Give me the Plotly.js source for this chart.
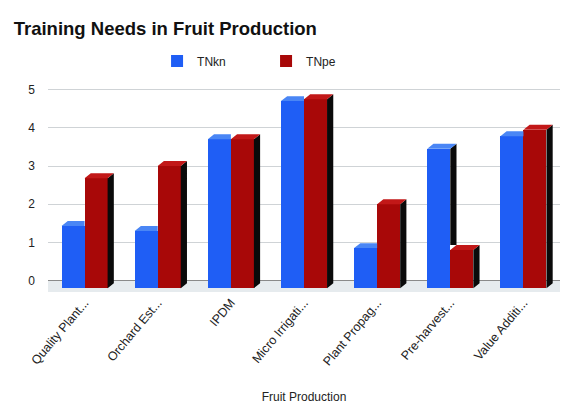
<!DOCTYPE html>
<html>
<head>
<meta charset="utf-8">
<script src="https://cdn.plot.ly/plotly-3.0.1.min.js"></script>
<style>html,body{margin:0;padding:0;background:#fff}#chart{width:571px;height:404px}</style>
</head>
<body>
<div id="chart"></div>
<script>
// ---- data ----
const categories = ["Quality Plant...", "Orchard Est...", "IPDM", "Micro Irrigati...", "Plant Propag...", "Pre-harvest...", "Value Additi..."];
const TNkn = [1.43, 1.30, 3.70, 4.70, 0.85, 3.45, 3.78];
const TNpe = [2.68, 3.00, 3.70, 4.75, 2.00, 0.80, 3.95];
const seriesNames = ["TNkn", "TNpe"];
const tickValues = [0, 1, 2, 3, 4, 5];

// ---- styling / geometry (not data) ----
const FONT = "Liberation Sans, Arial, sans-serif";
const base = -0.2, w = 0.315, dx = 0.085, dy = 0.13;
const blueFront = "#1f5ef5", blueTop = "#4a86f5", side = "#0a0a0a";
const redFront = "#a80808", redTop = "#c21818";
const idx = categories.map((_, i) => i);

function barTrace(vals, name, color, off) {
  return {type: "bar", x: idx, y: vals.map(v => v - base), base: base, offset: off, width: w,
    name: name, marker: {color: color, line: {width: 0}}, hoverinfo: "skip"};
}
function faces(vals, x0f, other, kind) {
  const xs = [], ys = [];
  vals.forEach((v, i) => {
    const x0 = i + x0f, x1 = x0 + w;
    if (kind === "top") {
      if (other && other[i] >= v) {
        xs.push(x0, x1, x1, x0 + dx, x0, null); ys.push(v, v, v + dy, v + dy, v, null);
      } else {
        xs.push(x0, x1, x1 + dx, x0 + dx, x0, null); ys.push(v, v, v + dy, v + dy, v, null);
      }
    } else {
      let lo = base;
      if (other) { if (other[i] >= v) return; lo = other[i] + dy; }
      xs.push(x1, x1, x1 + dx, x1 + dx, x1, null); ys.push(lo, v, v + dy, Math.max(lo, base + dy), lo, null);
    }
  });
  return {x: xs, y: ys};
}
function faceTrace(f, color) {
  return {type: "scatter", mode: "lines", x: f.x, y: f.y, fill: "toself", fillcolor: color,
    line: {width: 0, color: color}, hoverinfo: "skip", showlegend: false};
}

const data = [
  barTrace(TNkn, seriesNames[0], blueFront, -w),
  barTrace(TNpe, seriesNames[1], redFront, 0),
  faceTrace(faces(TNkn, -w, TNpe, "side"), side),
  faceTrace(faces(TNkn, -w, TNpe, "top"), blueTop),
  faceTrace(faces(TNpe, 0, null, "side"), side),
  faceTrace(faces(TNpe, 0, null, "top"), redTop)
];

const layout = {
  width: 571, height: 404,
  margin: {l: 48, r: 11, t: 82, b: 112},
  paper_bgcolor: "#fff", plot_bgcolor: "#fff",
  font: {family: FONT, size: 12, color: "#222"},
  title: {text: "<b>Training Needs in Fruit Production</b>", x: 0.024, xanchor: "left", y: 0.93, yanchor: "middle",
    font: {family: FONT, size: 18.5, color: "#111"}},
  showlegend: true,
  legend: {orientation: "h", x: 0.213, xanchor: "left", y: 1.1, yanchor: "middle", entrywidth: 64,
    font: {family: FONT, size: 12, color: "#222"}, bgcolor: "rgba(0,0,0,0)"},
  xaxis: {range: [-0.5, 6.5], tickvals: idx, ticktext: categories, tickangle: -50, showgrid: false,
    zeroline: false, showline: false, ticks: "", fixedrange: true,
    tickfont: {family: FONT, size: 12.5, color: "#222"},
    title: {text: "Fruit Production", font: {family: FONT, size: 12, color: "#222"}, standoff: 26}},
  yaxis: {range: [-0.3, 5.2], tickvals: tickValues, showgrid: true, gridcolor: "#cfd3d6", gridwidth: 1,
    zeroline: true, zerolinecolor: "#8a8a8a", zerolinewidth: 1.5, showline: false, ticks: "", fixedrange: true,
    ticklabelstandoff: 12,
    tickfont: {family: FONT, size: 12, color: "#222"}},
  shapes: [{type: "rect", xref: "paper", yref: "y", x0: 0, x1: 1, y0: -0.3, y1: 0, fillcolor: "#e6ebee",
    line: {width: 0}, layer: "below"}],
  bargap: 0
};
Plotly.newPlot("chart", data, layout, {displayModeBar: false, staticPlot: true});
</script>
</body>
</html>
